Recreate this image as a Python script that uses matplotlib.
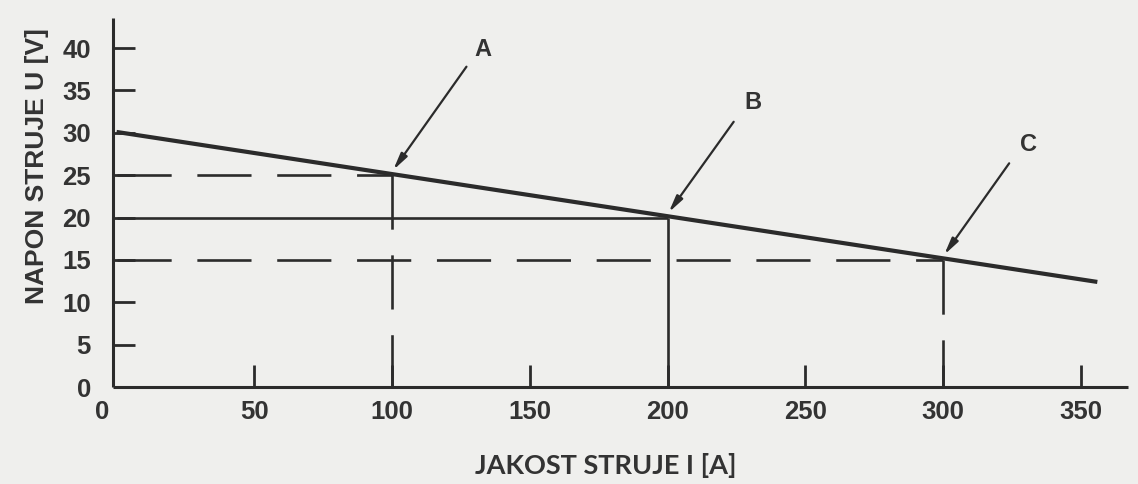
import matplotlib
matplotlib.use("Agg")
import matplotlib.pyplot as plt
import matplotlib.transforms as mtransforms

# ---- data ----
line_I = [0, 356]            # current [A], endpoints of the characteristic
line_U = [30.1, 12.4]        # voltage [V]
point_I = [100, 200, 300]    # operating points
point_U = [25, 20, 15]
point_labels = ["A", "B", "C"]
point_dashed = [True, False, True]
x_ticks = [0, 50, 100, 150, 200, 250, 300, 350]
y_ticks = [0, 5, 10, 15, 20, 25, 30, 35, 40]
x_label = "JAKOST STRUJE I [A]"
y_label = "NAPON STRUJE U [V]"

# layout of the callouts (offsets from each point, in data units)
tail_offsets = [(27, 12.8), (24, 11.3), (24, 11.4)]
label_offsets = [(33, 14.8), (31, 13.6), (31, 13.6)]

ink = "#2b2b2b"
txt = "#333333"
bg = "#efefed"

fig = plt.figure(figsize=(11.38, 4.84), dpi=100, facecolor=bg)
ax = fig.add_axes([0.0993, 0.2004, 0.8916, 0.7616], facecolor=bg)
ax.set_xlim(-1.3, 367)
ax.set_ylim(0, 43.5)

for s in ["top", "right"]:
    ax.spines[s].set_visible(False)
for s in ["left", "bottom"]:
    ax.spines[s].set_linewidth(2.2)
    ax.spines[s].set_color(ink)
    ax.spines[s].set_capstyle("butt")

ax.set_xticks(x_ticks)
ax.set_yticks(y_ticks)
ax.tick_params(axis="both", direction="in", length=16, width=2.0, color=ink,
               labelsize=18.5, labelcolor=txt)
ax.tick_params(axis="x", pad=9)
ax.tick_params(axis="y", pad=16)
for lab in ax.get_xticklabels() + ax.get_yticklabels():
    lab.set_fontfamily("Liberation Sans")
    lab.set_fontweight("bold")
# no tick marks at the origin
ax.xaxis.get_major_ticks()[0].tick1line.set_visible(False)
ax.yaxis.get_major_ticks()[0].tick1line.set_visible(False)
# the "0" of the x axis sits left of the axis
lab0 = ax.get_xticklabels()[0]
lab0.set_transform(lab0.get_transform() +
                   mtransforms.ScaledTranslation(-14 / 100, 0, fig.dpi_scale_trans))

# main characteristic
ax.plot(line_I, line_U, color=ink, lw=3.0, solid_capstyle="butt", zorder=4)

lw_ref = 1.9
for I, U, dashed in zip(point_I, point_U, point_dashed):
    # horizontal from the axis to the point, vertical from the point down to the axis
    for xs, ys in (([0, I], [U, U]), ([I, I], [U, 0])):
        ln, = ax.plot(xs, ys, color=ink, lw=lw_ref, zorder=3, solid_capstyle="butt")
        if dashed:
            ln.set_dashes([39 / lw_ref, 18.5 / lw_ref])
            ln.set_dash_capstyle("butt")

# arrows with labels
for I, U, lab, (tx, ty), (lx, ly) in zip(point_I, point_U, point_labels,
                                         tail_offsets, label_offsets):
    ax.annotate("", xy=(I + 0.4, U + 0.6), xytext=(I + tx, U + ty),
                arrowprops=dict(arrowstyle="-|>,head_length=1.0,head_width=0.22",
                                color=ink, lw=1.6, shrinkA=0, shrinkB=0),
                zorder=5)
    ax.text(I + lx, U + ly, lab, fontsize=17, color=txt,
            fontfamily="Liberation Sans", fontweight="bold",
            ha="center", va="center")

fig.text(37 / 1138, 1 - 166 / 484, y_label, rotation=90, ha="center", va="center",
         fontsize=19, fontfamily="Liberation Sans", fontweight="bold", color=txt)
fig.text(606 / 1138, 1 - 465 / 484, x_label, ha="center", va="center",
         fontsize=19.5, fontfamily="Lato", fontweight="bold", color=txt)

fig.savefig("out.png", dpi=100, facecolor=bg)
